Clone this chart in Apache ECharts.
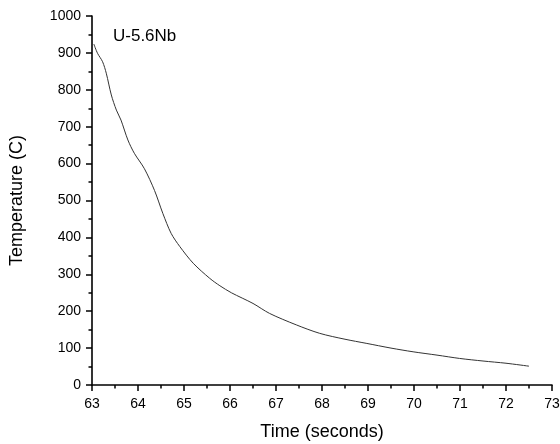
<!DOCTYPE html>
<html><head><meta charset="utf-8">
<script src="https://cdn.jsdelivr.net/npm/echarts@6/dist/echarts.min.js"></script>
<style>html,body{margin:0;padding:0;background:#fff}#c{width:560px;height:444px}</style>
</head><body><div id="c"></div>
<script>
var timeSec = [63.04,63.12,63.23,63.31,63.42,63.53,63.63,63.78,63.92,64.14,64.36,64.54,64.72,64.91,65.2,65.56,65.78,66.03,66.5,66.86,67.44,67.95,68.5,68.96,69.5,69.98,70.5,70.99,71.5,72.0,72.5];
var tempC   = [924,899,876,845,786,745,718,664,628,586,527,465,411,375,330,289,269,250,221,194,163,140,124,113,100,90,81,72,65,59,51];
var xTicks = [63,64,65,66,67,68,69,70,71,72,73];
var yTicks = [0,100,200,300,400,500,600,700,800,900,1000];

var data = timeSec.map(function(t,i){return [t,tempC[i]];});
var chart = echarts.init(document.getElementById('c'));
var font = 'Liberation Sans, Arial, sans-serif';
chart.setOption({
  animation:false,
  grid:{left:92,right:8,top:16,bottom:59,containLabel:false,outerBoundsMode:'none'},
  title:{text:'U-5.6Nb',left:108,top:23,textStyle:{fontFamily:font,fontSize:17,fontWeight:'normal',color:'#000'}},
  xAxis:{type:'value',min:xTicks[0],max:xTicks[xTicks.length-1],interval:1,
    name:'Time (seconds)',nameLocation:'middle',nameGap:38,
    nameTextStyle:{fontFamily:font,fontSize:18,color:'#000'},
    axisLine:{lineStyle:{color:'#000',width:1.6}},
    axisTick:{inside:false,length:6,lineStyle:{color:'#000',width:1.5}},
    minorTick:{show:true,splitNumber:2,length:3.5,lineStyle:{color:'#000',width:1.5}},
    axisLabel:{fontFamily:font,fontSize:14,color:'#000',margin:12,formatter:function(v){return String(v);}},
    splitLine:{show:false}},
  yAxis:{type:'value',min:yTicks[0],max:yTicks[yTicks.length-1],interval:100,
    name:'Temperature (C)',nameLocation:'middle',nameGap:66,
    nameTextStyle:{fontFamily:font,fontSize:18,color:'#000'},
    axisLine:{show:true,lineStyle:{color:'#000',width:1.6}},
    axisTick:{show:true,inside:false,length:6,lineStyle:{color:'#000',width:1.5}},
    minorTick:{show:true,splitNumber:2,length:3.5,lineStyle:{color:'#000',width:1.5}},
    axisLabel:{fontFamily:font,fontSize:14,color:'#000',margin:11,formatter:function(v){return String(v);}},
    splitLine:{show:false}},
  series:[{type:'line',data:data,showSymbol:false,smooth:0.3,
    lineStyle:{color:'#333',width:1}}]
});
</script></body></html>
